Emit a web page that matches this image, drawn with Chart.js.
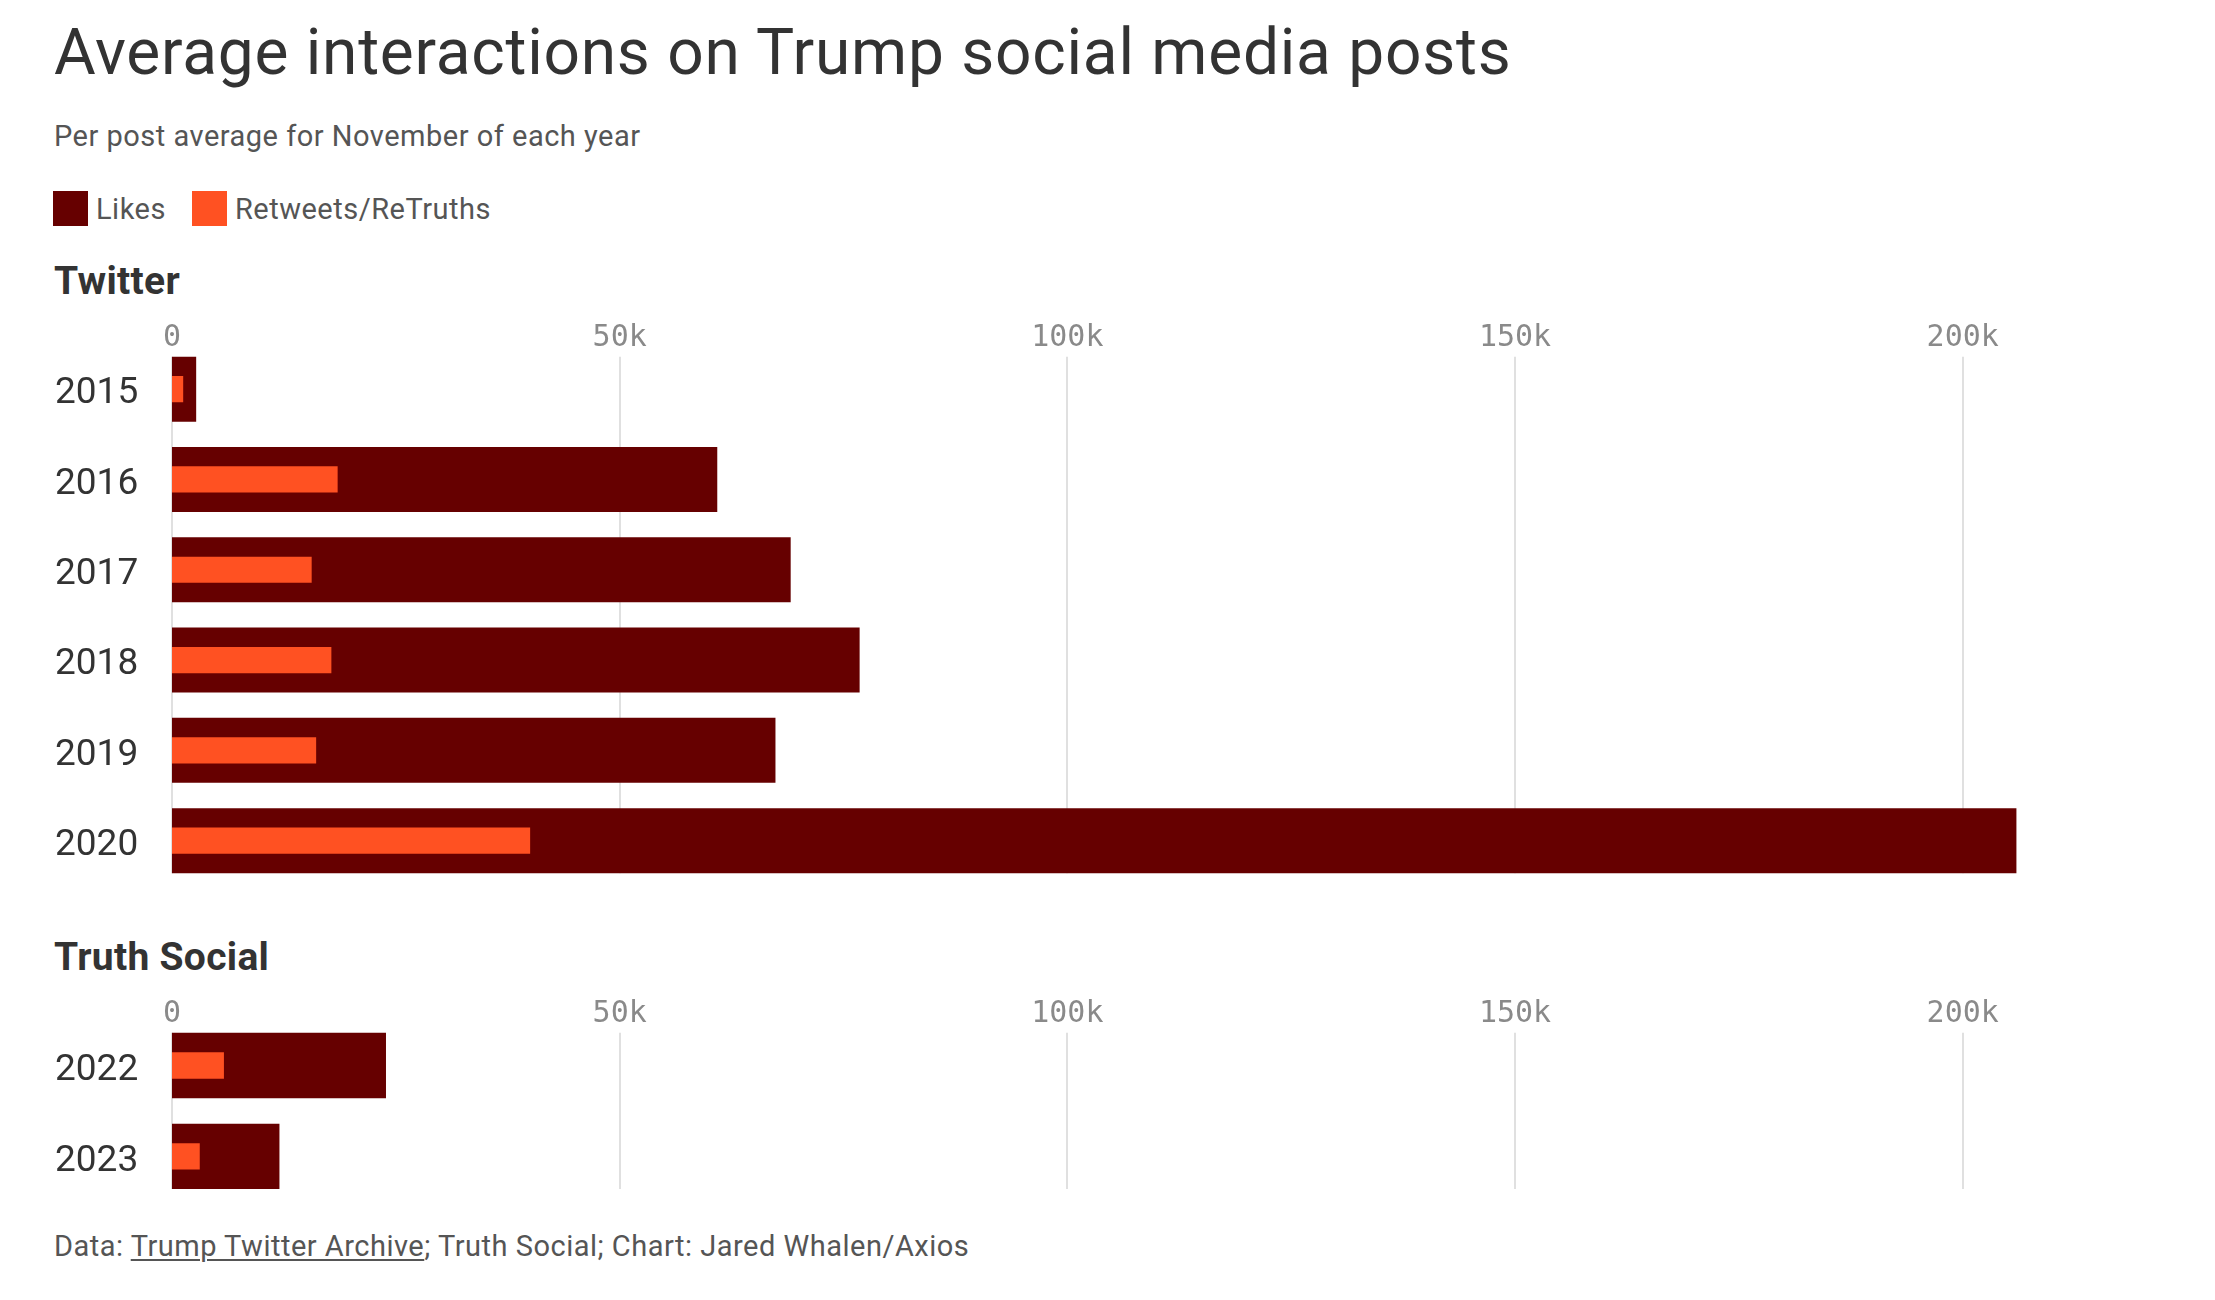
<!DOCTYPE html>
<html>
<head>
<meta charset="utf-8">
<script src="https://cdn.jsdelivr.net/npm/chart.js@4.4.1/dist/chart.umd.min.js"></script>
<style>
  html,body{margin:0;padding:0;background:#fff;}
  body{width:2215px;height:1300px;position:relative;overflow:hidden;font-family:Roboto,"Noto Sans",sans-serif;}
  .t{position:absolute;left:54px;line-height:1;white-space:nowrap;}
  #title{top:21px;font-size:64px;letter-spacing:0.75px;color:#333;}
  #sub{top:122px;font-size:29px;letter-spacing:0.5px;color:#555;}
  #legend{position:absolute;left:53px;top:191px;height:35px;display:flex;align-items:center;font-size:29px;letter-spacing:0.5px;color:#555;}
  #legend .sw{width:35px;height:35px;display:inline-block;margin-right:8px;}
  #legend .it{display:flex;align-items:center;margin-right:26px;}
  .head{font-size:39px;font-weight:700;letter-spacing:0.3px;color:#333;}
  #h1{top:262px;}
  #h2{top:938px;}
  #foot{top:1232px;font-size:29px;letter-spacing:0.5px;color:#555;}
  #foot u{text-decoration-thickness:2px;text-underline-offset:3px;}
  canvas{position:absolute;left:55px;}
  #c1{top:300px;}
  #c2{top:976px;}
</style>
</head>
<body>
<div class="t" id="title">Average interactions on Trump social media posts</div>
<div class="t" id="sub">Per post average for November of each year</div>
<div id="legend"></div>
<div class="t head" id="h1">Twitter</div>
<div class="t head" id="h2">Truth Social</div>
<div class="t" id="foot">Data: <u>Trump Twitter Archive</u>; Truth Social; Chart: Jared Whalen/Axios</div>
<canvas id="c1" width="2042" height="608"></canvas>
<canvas id="c2" width="2042" height="248"></canvas>
<script>
// values
const seriesNames = ['Likes', 'Retweets/ReTruths'];
const seriesColors = ['#660000', '#FF5122'];
const twitterYears = ['2015','2016','2017','2018','2019','2020'];
const twitterLikes = [2700, 60900, 69100, 76800, 67400, 206000];
const twitterRts   = [1250, 18500, 15600, 17800, 16100, 40000];
const truthYears = ['2022','2023'];
const truthLikes = [23900, 12000];
const truthRts   = [5800, 3100];
const xTicks = [0, 50000, 100000, 150000, 200000];
const xMax = 215000;

const lg = document.getElementById('legend');
seriesNames.forEach((n,i)=>{ const d=document.createElement('div'); d.className='it'; d.innerHTML=`<span class="sw" style="background:${seriesColors[i]}"></span>${n}`; lg.appendChild(d); });

const fmtK = v => v===0 ? '0' : (v/1000)+'k';

// grid lines only span the bars; tick labels sit just above the first bar
// (drawn here because the axis box clips labels that dip into the band area)
const barGrid = {
  id:'barGrid',
  beforeDatasetsDraw(chart){
    const els = chart.getDatasetMeta(0).data;
    if(!els.length) return;
    const top = els[0].y - els[0].height/2, bot = els[els.length-1].y + els[els.length-1].height/2;
    const x = chart.scales.x, ctx = chart.ctx;
    ctx.save(); ctx.strokeStyle='#e0e0e0'; ctx.lineWidth=2;
    xTicks.forEach(v=>{ const px=Math.round(x.getPixelForValue(v)); ctx.beginPath(); ctx.moveTo(px,top); ctx.lineTo(px,bot); ctx.stroke(); });
    ctx.fillStyle='#8a8a8a'; ctx.font='30px "DejaVu Sans Mono", monospace';
    ctx.textAlign='center'; ctx.textBaseline='alphabetic';
    xTicks.forEach(v=>{ ctx.fillText(fmtK(v), x.getPixelForValue(v), chart.chartArea.top + 2); });
    ctx.restore();
  }
};

function makeChart(id, years, likes, rts){
  return new Chart(document.getElementById(id), {
    type:'bar',
    data:{ labels:years, datasets:[
      {label:seriesNames[0], data:likes, backgroundColor:seriesColors[0], order:2, barPercentage:0.72, categoryPercentage:1, grouped:false},
      {label:seriesNames[1], data:rts, backgroundColor:seriesColors[1], order:1, barPercentage:0.29, categoryPercentage:1, grouped:false}
    ]},
    options:{
      indexAxis:'y', responsive:false, animation:false, devicePixelRatio:1,
      layout:{padding:0},
      plugins:{legend:{display:false}, tooltip:{enabled:false}},
      scales:{
        x:{ position:'top', min:0, max:xMax,
            grid:{display:false, drawTicks:false}, border:{display:false},
            afterBuildTicks:s=>{ s.ticks = xTicks.map(v=>({value:v})); },
            afterFit:s=>{ s.height = 44; },
            ticks:{ display:false, callback:fmtK } },
        y:{ grid:{display:false, drawTicks:false}, border:{display:false},
            afterFit:s=>{ s.width = 117; },
            ticks:{ crossAlign:'far', padding:0, labelOffset:5, color:'#333', font:{family:'Roboto', size:37} } }
      }
    },
    plugins:[barGrid]
  });
}
makeChart('c1', twitterYears, twitterLikes, twitterRts);
makeChart('c2', truthYears, truthLikes, truthRts);
</script>
</body>
</html>
